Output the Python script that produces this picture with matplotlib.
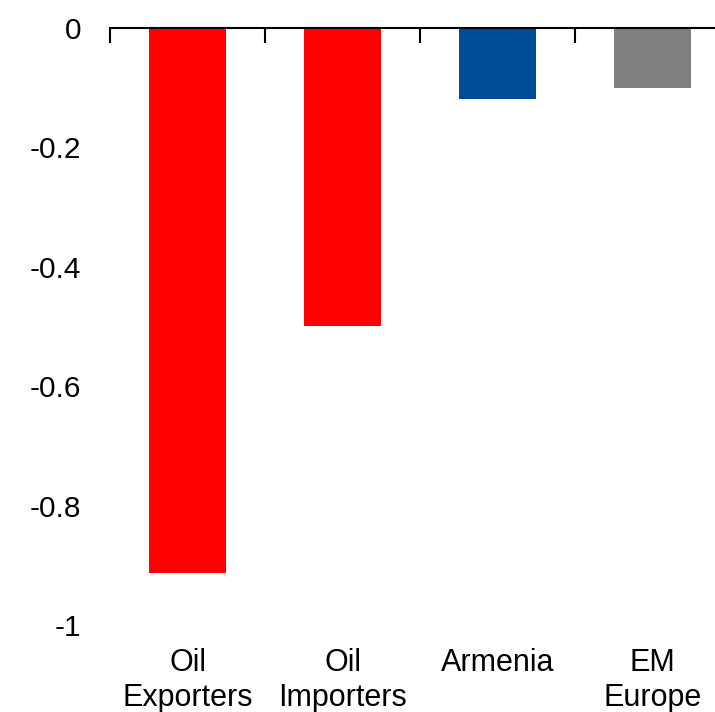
import matplotlib.pyplot as plt

# ---------------- datos ----------------
categorias = ['Oil\nExporters', 'Oil\nImporters', 'Armenia', 'EM\nEurope']
valores = [-0.913, -0.50, -0.12, -0.10]
colores = ['#FF0000', '#FF0000', '#004C97', '#808080']
yticks = [0, -0.2, -0.4, -0.6, -0.8, -1]
yticklabels = ['0', '-0.2', '-0.4', '-0.6', '-0.8', '-1']

plt.rcParams['font.family'] = ['Liberation Sans', 'DejaVu Sans']

# ---------------- grafico ----------------
fig = plt.figure(figsize=(7.15, 7.12), dpi=100)
ax = fig.add_axes([0.154, 0.122, 0.867, 0.839])

x = range(len(categorias))
ax.bar(x, valores, width=0.5, color=colores)

ax.set_xlim(-0.5, 3.5)
ax.set_ylim(-1, 0)
ax.set_yticks(yticks)
ax.set_yticklabels(yticklabels, fontsize=21.5)
ax.set_xticks(list(x))
ax.set_xticklabels(categorias, fontsize=22, linespacing=1.2)
ax.set_xticks([-0.5, 0.5, 1.5, 2.5, 3.5], minor=True)

for s in ['left', 'right', 'bottom']:
    ax.spines[s].set_visible(False)
ax.spines['top'].set_linewidth(1.5)

ax.tick_params(axis='y', length=0, pad=21)
ax.tick_params(axis='x', which='major', bottom=False, top=False, labelbottom=True, pad=13)
ax.tick_params(axis='x', which='minor', bottom=False, top=True, direction='in', length=11, width=1.5)

fig.savefig('out.png', dpi=100)
